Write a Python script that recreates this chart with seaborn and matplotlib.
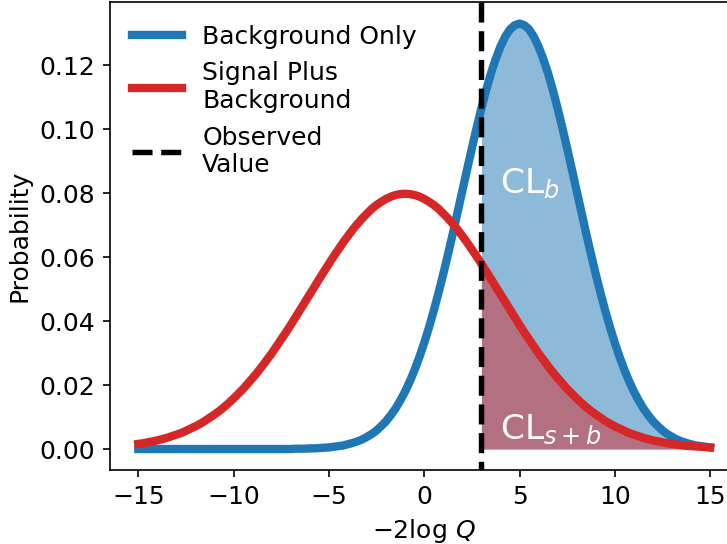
import numpy as np
import matplotlib
matplotlib.use("Agg")
import matplotlib.pyplot as plt
import seaborn as sns

# Test statistic grid, -15 ... 15 in steps of 0.25
test_stat = np.linspace(-15, 15, 121)

# Probability density of the test statistic, background-only hypothesis
background_only = [
    0.0000, 0.0000, 0.0000, 0.0000, 0.0000, 0.0000, 0.0000, 0.0000,
    0.0000, 0.0000, 0.0000, 0.0000, 0.0000, 0.0000, 0.0000, 0.0000,
    0.0000, 0.0000, 0.0000, 0.0000, 0.0000, 0.0000, 0.0000, 0.0000,
    0.0000, 0.0000, 0.0000, 0.0000, 0.0000, 0.0000, 0.0000, 0.0000,
    0.0000,
    0.0001, 0.0001, 0.0001, 0.0002, 0.0002, 0.0003, 0.0004, 0.0005,
    0.0007, 0.0009, 0.0011, 0.0015, 0.0019, 0.0024, 0.0030, 0.0038,
    0.0047, 0.0058, 0.0072, 0.0087, 0.0106, 0.0127, 0.0152, 0.0180,
    0.0212, 0.0248, 0.0288, 0.0332, 0.0380, 0.0432, 0.0488, 0.0547,
    0.0609, 0.0673, 0.0740, 0.0807, 0.0874, 0.0940, 0.1004, 0.1065,
    0.1122, 0.1174, 0.1219, 0.1258, 0.1289, 0.1312, 0.1325, 0.1330,
    0.1325, 0.1312, 0.1289, 0.1258, 0.1219, 0.1174, 0.1122, 0.1065,
    0.1004, 0.0940, 0.0874, 0.0807, 0.0740, 0.0673, 0.0609, 0.0547,
    0.0488, 0.0432, 0.0380, 0.0332, 0.0288, 0.0248, 0.0212, 0.0180,
    0.0152, 0.0127, 0.0106, 0.0087, 0.0072, 0.0058, 0.0047, 0.0038,
    0.0030, 0.0024, 0.0019, 0.0015, 0.0011, 0.0009, 0.0007, 0.0005,
]

# Probability density of the test statistic, signal-plus-background hypothesis
signal_plus_background = [
    0.0016, 0.0018, 0.0021, 0.0024, 0.0027, 0.0031, 0.0035, 0.0040,
    0.0045, 0.0050, 0.0057, 0.0064, 0.0071, 0.0079, 0.0088, 0.0098,
    0.0108, 0.0119, 0.0131, 0.0144, 0.0158, 0.0173, 0.0188, 0.0205,
    0.0222, 0.0240, 0.0259, 0.0279, 0.0299, 0.0321, 0.0343, 0.0365,
    0.0388, 0.0412, 0.0436, 0.0460, 0.0484, 0.0508, 0.0532, 0.0556,
    0.0579, 0.0602, 0.0624, 0.0646, 0.0666, 0.0686, 0.0704, 0.0721,
    0.0736, 0.0751, 0.0763, 0.0773, 0.0782, 0.0789, 0.0794, 0.0797,
    0.0798,
    0.0797, 0.0794, 0.0789, 0.0782, 0.0773, 0.0763, 0.0751, 0.0736,
    0.0721, 0.0704, 0.0686, 0.0666, 0.0646, 0.0624, 0.0602, 0.0579,
    0.0556, 0.0532, 0.0508, 0.0484, 0.0460, 0.0436, 0.0412, 0.0388,
    0.0365, 0.0343, 0.0321, 0.0299, 0.0279, 0.0259, 0.0240, 0.0222,
    0.0205, 0.0188, 0.0173, 0.0158, 0.0144, 0.0131, 0.0119, 0.0108,
    0.0098, 0.0088, 0.0079, 0.0071, 0.0064, 0.0057, 0.0050, 0.0045,
    0.0040, 0.0035, 0.0031, 0.0027, 0.0024, 0.0021, 0.0018, 0.0016,
    0.0014, 0.0012, 0.0010, 0.0009, 0.0008, 0.0007, 0.0006, 0.0005,
]

observed_value = 3.0

series_labels = ["Background Only", "Signal Plus\nBackground", "Observed\nValue"]
region_labels = [r"CL$_b$", r"CL$_{s+b}$"]

x = np.asarray(test_stat)
b = np.asarray(background_only)
sb = np.asarray(signal_plus_background)

plt.rcParams["font.size"] = 12

fig = plt.figure(figsize=(727 / 150, 544 / 150), dpi=150)
ax = fig.add_axes([0.1509, 0.1355, 0.8652, 0.8603])

# Shaded tails beyond the observed value
tail = x >= observed_value
ax.fill_between(x[tail], b[tail], color="C0", alpha=0.5, linewidth=0)
ax.fill_between(x[tail], sb[tail], color="C3", alpha=0.5, linewidth=0)

sns.lineplot(x=x, y=b, color="C0", linewidth=4, label=series_labels[0], ax=ax)
sns.lineplot(x=x, y=sb, color="C3", linewidth=4, label=series_labels[1], ax=ax)
# dashed marker of the observed value, drawn from the top of the axes down
ax.axvline(observed_value, ymin=1, ymax=0, color="black", linestyle="--",
           linewidth=2.6, label=series_labels[2])

ax.text(4, 0.08, region_labels[0], color="white", fontsize=16.5)
ax.text(4, 0.003, region_labels[1], color="white", fontsize=16.5)

ax.set_xlabel(r"$-2\log\,Q$")
ax.set_ylabel("Probability")
ax.set_xticks([-15, -10, -5, 0, 5, 10, 15])
ax.set_yticks([0.00, 0.02, 0.04, 0.06, 0.08, 0.10, 0.12])

ax.legend(loc="upper left", frameon=False)

fig.savefig("out.png", dpi=150)
